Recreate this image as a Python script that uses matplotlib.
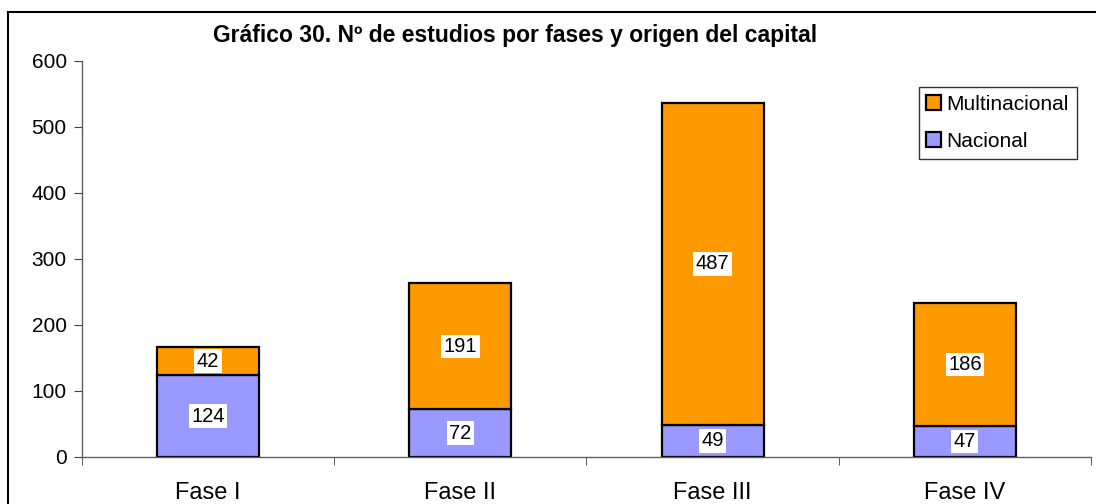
import numpy as np
import matplotlib
matplotlib.use("Agg")
import matplotlib.pyplot as plt
from matplotlib.lines import Line2D

plt.rcParams['font.family'] = ['Liberation Sans', 'DejaVu Sans']

fases = ['Fase I', 'Fase II', 'Fase III', 'Fase IV']
nacional = [124, 72, 49, 47]
multinacional = [42, 191, 487, 186]

c_nac = '#9999FF'
c_mult = '#FF9900'

fig = plt.figure(figsize=(10.96, 5.04), dpi=100)
ax = fig.add_axes([0.0748, 0.0933, 0.9206, 0.7857])

x = np.arange(len(fases))
w = 0.405
b1 = ax.bar(x, nacional, w, color=c_nac, edgecolor='black', linewidth=1.6, label='Nacional')
b2 = ax.bar(x, multinacional, w, bottom=nacional, color=c_mult, edgecolor='black',
            linewidth=1.6, label='Multinacional')

# data labels in white boxes
for xi, n, m in zip(x, nacional, multinacional):
    for val, y in [(n, n / 2), (m, n + m / 2)]:
        ax.text(xi, y, str(val), ha='center', va='center', fontsize=14.5,
                bbox=dict(facecolor='white', edgecolor='none', pad=1.8))

ax.set_xlim(-0.5, 3.5)
ax.set_ylim(0, 600)
ax.set_yticks(range(0, 601, 100))
ax.set_xticks(x)
ax.set_xticklabels(fases, fontsize=17)
ax.set_xticks(np.arange(-0.5, 4, 1), minor=True)
ax.tick_params(axis='x', which='major', length=0, pad=18)
ax.tick_params(axis='x', which='minor', length=6, direction='out', color='#404040')
ax.tick_params(axis='y', length=6, direction='out', labelsize=15, pad=5, color='#404040')

for s in ['top', 'right']:
    ax.spines[s].set_visible(False)
for s in ['left', 'bottom']:
    ax.spines[s].set_color('#606060')
    ax.spines[s].set_linewidth(1.0)

leg = ax.legend(handles=[b2, b1], loc='upper right', bbox_to_anchor=(0.9861, 0.9343),
                fontsize=15, frameon=True, fancybox=False, handlelength=0.72,
                handleheight=0.72, handletextpad=0.25, borderpad=0.38,
                labelspacing=0.85, borderaxespad=0)
leg.get_frame().set_edgecolor('black')
leg.get_frame().set_linewidth(1.0)

fig.text(0.47, 0.9286, 'Gráfico 30. Nº de estudios por fases y origen del capital',
         ha='center', va='center', fontsize=16.5, fontweight='bold')

# chart-area frame (top and left edges visible)
fig.add_artist(Line2D([8 / 1096, 8 / 1096], [0, 1 - 12 / 504], color='black', lw=1.5,
                      transform=fig.transFigure))
fig.add_artist(Line2D([8 / 1096, 1], [1 - 12 / 504, 1 - 12 / 504], color='black', lw=1.5,
                      transform=fig.transFigure))

fig.savefig('out.png', dpi=100)
